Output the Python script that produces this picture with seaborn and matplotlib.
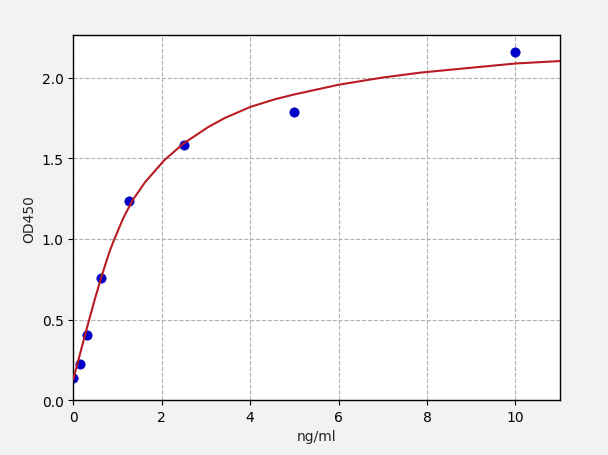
import matplotlib
matplotlib.use("Agg")
import matplotlib.pyplot as plt
import pandas as pd
import seaborn as sns

# standard points (ng/ml vs OD450)
conc = [0.0, 0.156, 0.3125, 0.625, 1.25, 2.5, 5.0, 10.0]
od450 = [0.138, 0.224, 0.405, 0.760, 1.238, 1.586, 1.787, 2.160]

# fitted curve
curve_x = [0.0, 0.15, 0.30, 0.40, 0.49, 0.55, 0.63, 0.74, 0.83, 0.93, 1.13, 1.335,
           1.62, 2.06, 2.5, 3.05, 3.43, 4.0, 4.56, 5.0, 6.0, 7.0, 7.84, 10.0, 11.0]
curve_y = [0.13, 0.285, 0.44, 0.54, 0.63, 0.685, 0.76, 0.855, 0.93, 1.0, 1.13, 1.238,
           1.352, 1.49, 1.595, 1.695, 1.752, 1.82, 1.868, 1.898, 1.958, 2.003, 2.033, 2.09, 2.105]

points_df = pd.DataFrame({"ng/ml": conc, "OD450": od450})
curve_df = pd.DataFrame({"ng/ml": curve_x, "OD450": curve_y})

sns.set_style("ticks")
plt.rcParams["font.family"] = ["DejaVu Sans"]

fig = plt.figure(figsize=(6.08, 4.56), dpi=100, facecolor="#f2f2f2")
ax = fig.add_axes([0.1206, 0.1206, 0.7999, 0.7994])
ax.set_facecolor("white")

sns.scatterplot(data=points_df, x="ng/ml", y="OD450", ax=ax, color="#0000cc",
                s=45, edgecolor="#0000aa", linewidth=0.5, zorder=2)
sns.lineplot(data=curve_df, x="ng/ml", y="OD450", ax=ax, sort=False, color="#b81c22",
             linewidth=1.5, zorder=3, solid_joinstyle="round")

ax.set_xlim(0, 11)
ax.set_ylim(0, 2.264)
ax.set_xticks([0, 2, 4, 6, 8, 10])
ax.set_yticks([0.0, 0.5, 1.0, 1.5, 2.0])
ax.set_yticklabels(["0.0", "0.5", "1.0", "1.5", "2.0"])
ax.grid(True, linestyle="--", color="#b0b0b0", linewidth=0.8)
ax.set_axisbelow(True)

for side in ["left", "bottom", "top", "right"]:
    ax.spines[side].set_visible(True)
    ax.spines[side].set_color("black")
    ax.spines[side].set_linewidth(1.0)

ax.tick_params(direction="out", length=3.5, width=0.8, labelsize=10, colors="black")
ax.set_xlabel("ng/ml", fontsize=10)
ax.set_ylabel("OD450", fontsize=10)

fig.savefig("out.png", dpi=100, facecolor=fig.get_facecolor())
